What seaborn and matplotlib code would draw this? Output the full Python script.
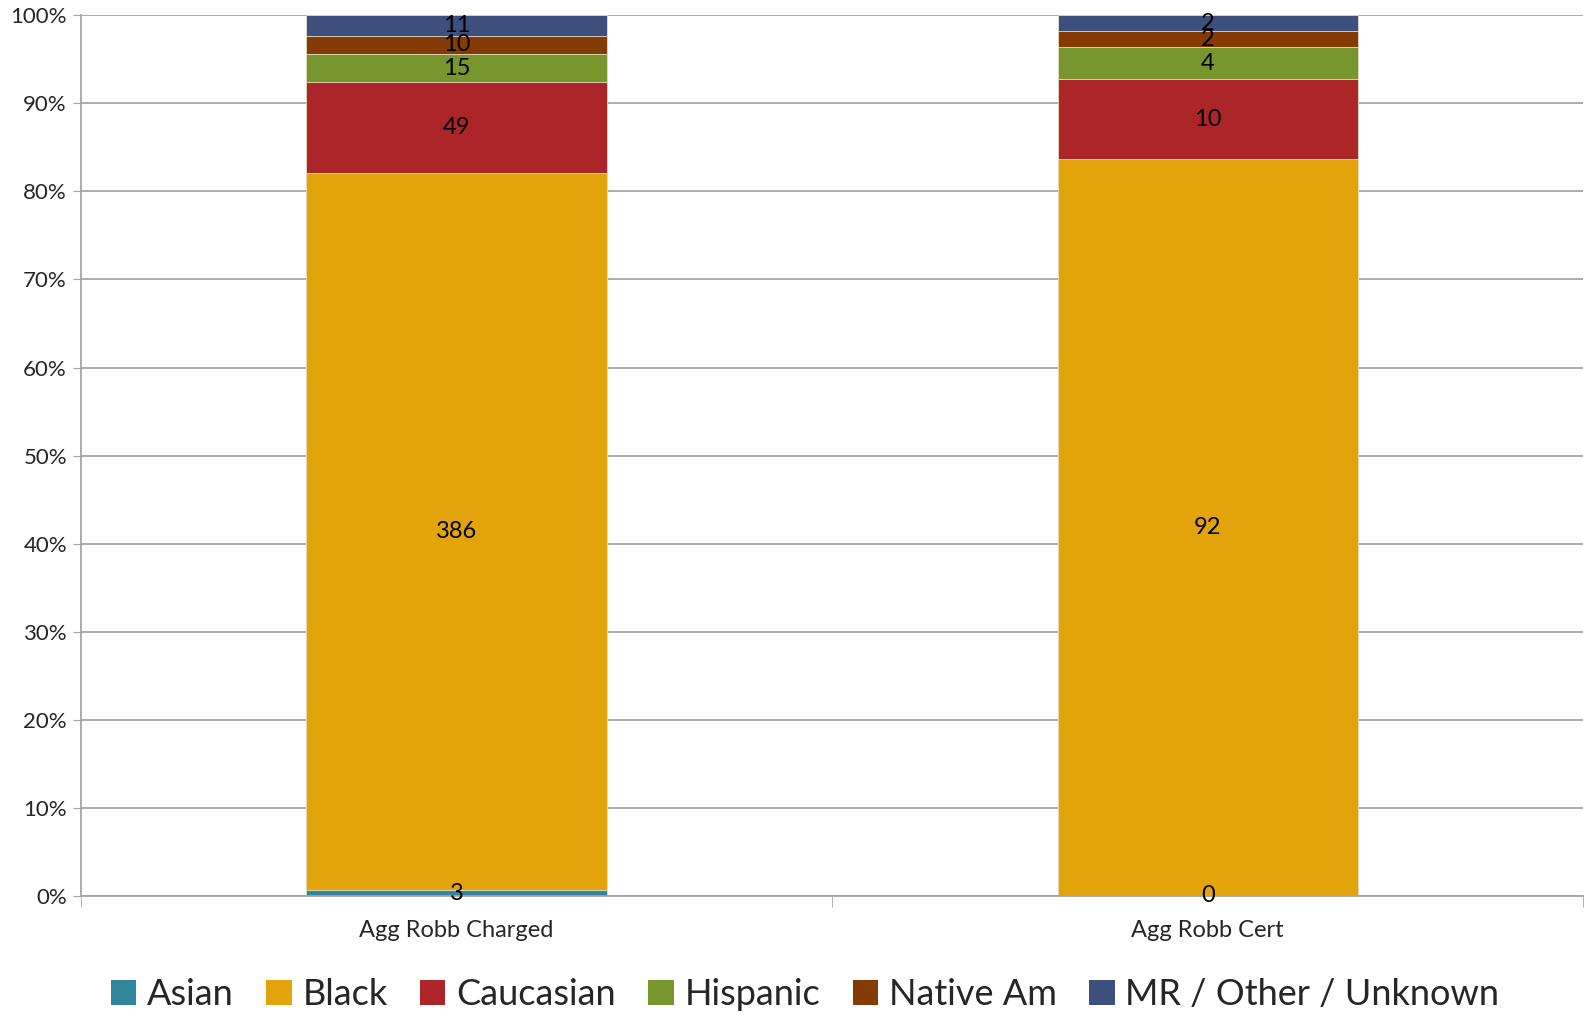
import matplotlib
matplotlib.use("Agg")
import matplotlib.pyplot as plt
from matplotlib.ticker import PercentFormatter, FixedLocator
from matplotlib.patches import Patch
import seaborn as sns
import numpy as np
import pandas as pd

categories = ["Agg Robb Charged", "Agg Robb Cert"]
groups = ["Asian", "Black", "Caucasian", "Hispanic", "Native Am", "MR / Other / Unknown"]
asian = [3, 0]
black = [386, 92]
caucasian = [49, 10]
hispanic = [15, 4]
native_am = [10, 2]
other = [11, 2]
colors = ["#31859c", "#e2a40a", "#ac2629", "#77972e", "#843b06", "#3d4f7d"]

counts = pd.DataFrame([asian, black, caucasian, hispanic, native_am, other],
                      index=groups, columns=categories)
pct = counts / counts.sum(axis=0)
cum = pct.cumsum(axis=0)

sns.set_style("white")
plt.rcParams["font.family"] = ["Lato", "DejaVu Sans"]

fig, ax = plt.subplots(figsize=(15.85, 10.17), dpi=100)
fig.subplots_adjust(left=0.051, right=0.999, top=0.985, bottom=0.119)

# draw cumulative layers from the top down so each one covers the last
for g, c in reversed(list(zip(groups, colors))):
    sns.barplot(x=categories, y=cum.loc[g].values, color=c, width=0.4,
                saturation=1, ax=ax, zorder=3, edgecolor="#e8e0c8", linewidth=0.6)

for g in groups:
    for i, cat in enumerate(categories):
        mid = cum.loc[g, cat] - pct.loc[g, cat] / 2
        ax.text(i, mid, str(counts.loc[g, cat]), ha="center", va="center",
                fontsize=17, color="black", zorder=5)

ax.set_ylim(0, 1)
ax.set_xlim(-0.5, 1.5)
ax.yaxis.set_major_locator(FixedLocator(np.arange(0, 1.01, 0.1)))
ax.yaxis.set_major_formatter(PercentFormatter(1.0, decimals=0))
ax.grid(axis="y", color="#a6a6a6", linewidth=1.3, zorder=0)
ax.set_axisbelow(True)
for s in ["top", "right"]:
    ax.spines[s].set_visible(False)
for s in ["left", "bottom"]:
    ax.spines[s].set_color("#a6a6a6")
    ax.spines[s].set_linewidth(1.3)
    ax.spines[s].set_zorder(4)

ax.tick_params(axis="y", left=True, length=6, color="#a6a6a6", labelsize=16, pad=4)
ax.tick_params(axis="x", bottom=False, labelsize=17, pad=14)
ax.set_xticks([0, 1])
ax.set_xticklabels(categories)
ax.set_xticks([-0.5, 0.5, 1.5], minor=True)
ax.tick_params(axis="x", which="minor", bottom=True, length=8, color="#a6a6a6")
ax.set_xlabel("")
ax.set_ylabel("")

handles = [Patch(facecolor=c, edgecolor="none") for c in colors]
fig.legend(handles, groups, loc="center", bbox_to_anchor=(0.508, 0.022), ncol=6,
           frameon=False, fontsize=26, handlelength=0.7, handleheight=0.7,
           handletextpad=0.3, columnspacing=0.9)

fig.savefig("out.png", dpi=100)
